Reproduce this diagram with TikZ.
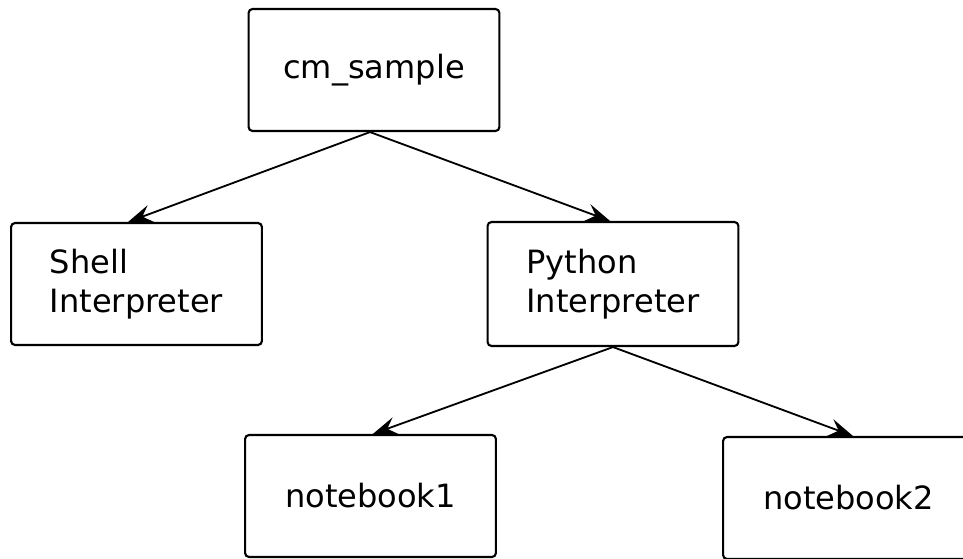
\documentclass[tikz,border=0pt]{standalone}
\usepackage{fontspec}
\setmainfont{DejaVu Sans}
\tikzset{font={\fontsize{22.8pt}{27.8pt}\selectfont}}
\usetikzlibrary{
	arrows.meta,
	positioning
	}
\tikzstyle{box-std}=[draw,line width=1.5pt,rounded corners=0.1cm,align=left,minimum width=6.27cm,minimum height=3.05cm,inner sep=0pt]
\tikzstyle{fleche-std}=[line width=1.3pt,-{Stealth[length=0.6cm,width=0.44cm,inset=0.22cm]}]

\begin{document}
\begin{tikzpicture}[x=0.025cm,y=-0.025cm]
        \useasboundingbox (0,0) rectangle (963,559);
        %
        \node[box-std] (cm) at (374,70) {cm\_sample};
        \node[box-std] (shell) at (136.5,284) {Shell\\Interpreter};
        \node[box-std, minimum height=3.1cm] (python) at (613,284) {Python\\Interpreter};
        \node[box-std] (nb1) at (370.5,496) {notebook1};
        \node[box-std] (nb2) at (848.5,498) {notebook2};
        %
        \draw[fleche-std] ([xshift=-0.1cm]cm.south) -- ([xshift=-0.21cm]shell.north);
        \draw[fleche-std] ([xshift=-0.1cm]cm.south) -- ([xshift=-0.075cm]python.north);

        \draw[fleche-std] (python.south) -- ([xshift=0.06cm]nb1.north);
        \draw[fleche-std] (python.south) -- ([xshift=0.11cm]nb2.north);
    \end{tikzpicture}
\end{document}
